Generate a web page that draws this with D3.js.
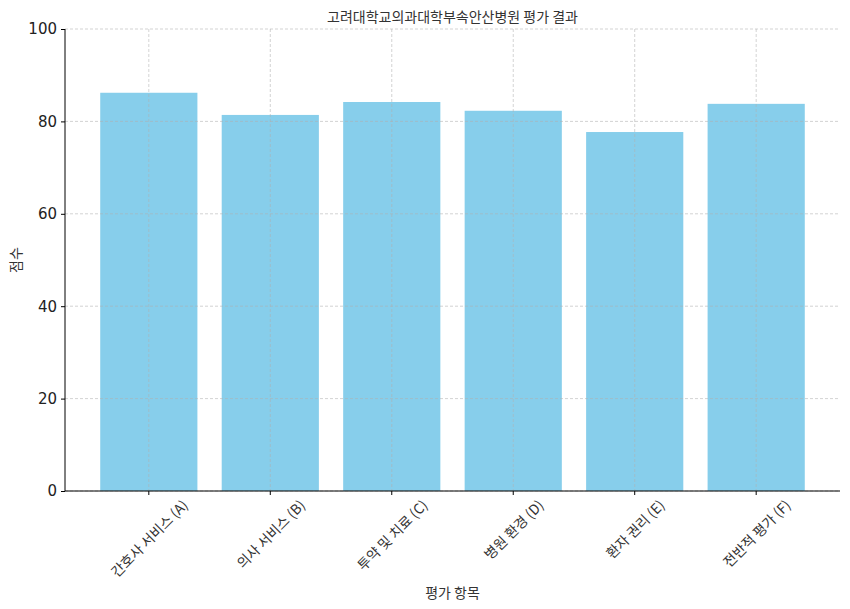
<!DOCTYPE html>
<html>
<head>
<meta charset="utf-8">
<script src="https://cdn.jsdelivr.net/npm/d3@7"></script>
<style>
    body { margin: 0; background: #fff; }
    text { font-family: "Noto Sans CJK KR", "DejaVu Sans", sans-serif; }
</style>
</head>
<body>
<svg id="chart"></svg>
<script>
'use strict';

const categories = ['간호사 서비스 (A)', '의사 서비스 (B)', '투약 및 치료 (C)', '병원 환경 (D)', '환자 권리 (E)', '전반적 평가 (F)'];
const scores = [86.2, 81.4, 84.2, 82.3, 77.7, 83.8];
const yTicks = [0, 20, 40, 60, 80, 100];

(function () {
    const width = 850;
    const height = 609;
    const margin = { top: 29, right: 10, bottom: 118, left: 65 };
    const plotW = width - margin.left - margin.right;
    const plotH = height - margin.top - margin.bottom;

    const svg = d3.select('#chart')
        .attr('width', width)
        .attr('height', height);

    const x = d3.scaleBand()
        .domain(categories)
        .range([0, plotW])
        .paddingInner(0.2)
        .paddingOuter(0.29);

    const y = d3.scaleLinear()
        .domain([0, 100])
        .range([plotH, 0]);

    const g = svg.append('g')
        .attr('transform', 'translate(' + margin.left + ',' + margin.top + ')');

    // bars
    g.selectAll('.bar')
        .data(categories)
        .enter().append('rect')
        .attr('class', 'bar')
        .attr('x', d => x(d))
        .attr('width', x.bandwidth())
        .attr('y', (d, i) => y(scores[i]))
        .attr('height', (d, i) => plotH - y(scores[i]))
        .attr('fill', '#87ceeb');

    // grid on top, like the original
    const grid = g.append('g').attr('class', 'grid');
    grid.selectAll('.hgrid')
        .data(yTicks)
        .enter().append('line')
        .attr('x1', 0).attr('x2', plotW)
        .attr('y1', d => y(d)).attr('y2', d => y(d))
        .attr('stroke', '#b0b0b0')
        .attr('stroke-opacity', 0.7)
        .attr('stroke-width', 0.8)
        .attr('stroke-dasharray', '3,2');
    grid.selectAll('.vgrid')
        .data(categories)
        .enter().append('line')
        .attr('x1', d => x(d) + x.bandwidth() / 2).attr('x2', d => x(d) + x.bandwidth() / 2)
        .attr('y1', 0).attr('y2', plotH)
        .attr('stroke', '#b0b0b0')
        .attr('stroke-opacity', 0.7)
        .attr('stroke-width', 0.8)
        .attr('stroke-dasharray', '3,2');

    // y axis
    const yAxis = g.append('g')
        .call(d3.axisLeft(y).tickValues(yTicks).tickSize(4).tickPadding(4));
    yAxis.select('.domain').attr('stroke', '#000').attr('d', 'M0,' + plotH + 'V0');
    yAxis.selectAll('.tick line').attr('stroke', '#000');
    yAxis.selectAll('.tick text')
        .attr('fill', '#222')
        .style('font-family', '"DejaVu Sans", sans-serif')
        .style('font-size', '15px');

    // x axis
    const xAxis = g.append('g')
        .attr('transform', 'translate(0,' + plotH + ')')
        .call(d3.axisBottom(x).tickSize(4).tickFormat(''));
    xAxis.select('.domain').attr('stroke', '#000').attr('d', 'M0,0H' + plotW);
    xAxis.selectAll('.tick line').attr('stroke', '#000');

    // rotated tick labels, bbox centred under each tick
    const fs = 14;
    const labels = g.append('g').attr('class', 'xlabels');
    categories.forEach(c => {
        const t = labels.append('text')
            .attr('text-anchor', 'middle')
            .attr('dominant-baseline', 'central')
            .attr('fill', '#333')
            .style('font-size', fs + 'px')
            .text(c);
        const len = t.node().getComputedTextLength();
        const half = (len + fs) / (2 * Math.SQRT2);
        const cx = x(c) + x.bandwidth() / 2;
        const cy = plotH + 6 + half;
        t.attr('transform', 'translate(' + cx + ',' + cy + ') rotate(-45)');
    });

    // axis titles
    svg.append('text')
        .attr('x', margin.left + plotW / 2)
        .attr('y', 592)
        .attr('text-anchor', 'middle')
        .attr('dominant-baseline', 'central')
        .attr('fill', '#333')
        .style('font-size', '14px')
        .text('평가 항목');

    svg.append('text')
        .attr('transform', 'translate(15,' + (margin.top + plotH / 2) + ') rotate(-90)')
        .attr('text-anchor', 'middle')
        .attr('dominant-baseline', 'central')
        .attr('fill', '#333')
        .style('font-size', '14px')
        .text('점수');

    svg.append('text')
        .attr('x', margin.left + plotW / 2)
        .attr('y', 16)
        .attr('text-anchor', 'middle')
        .attr('dominant-baseline', 'central')
        .attr('fill', '#333')
        .style('font-size', '14px')
        .text('고려대학교의과대학부속안산병원 평가 결과');
})();
</script>
</body>
</html>
